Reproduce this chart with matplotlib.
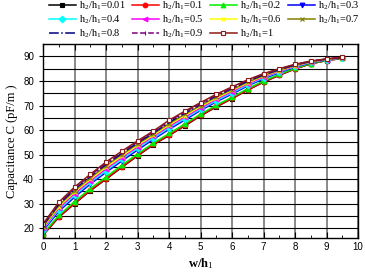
import matplotlib.pyplot as plt
import numpy as np

plt.rcParams['mathtext.fontset'] = 'custom'
plt.rcParams['mathtext.rm'] = 'Liberation Serif'
plt.rcParams['mathtext.it'] = 'Liberation Serif:italic'
plt.rcParams['mathtext.bf'] = 'Liberation Serif:bold'

w_h1 = [0, 0.5, 1, 1.5, 2, 2.5, 3, 3.5, 4, 4.5, 5, 5.5, 6, 6.5, 7, 7.5, 8, 8.5, 9, 9.5]

ratios = ['0.01', '0.1', '0.2', '0.3', '0.4', '0.5', '0.6', '0.7', '0.8', '0.9', '1']

c_001 = [17.2, 24.5, 30.0, 35.3, 40.0, 44.8, 49.5, 54.0, 57.8, 61.7, 65.8, 69.4, 72.8, 76.3, 79.5, 82.3, 84.9, 87.0, 88.3, 89.2]
c_01 = [17.3, 24.7, 30.2, 35.5, 40.2, 45.0, 49.7, 54.2, 58.0, 61.9, 66.0, 69.6, 72.9, 76.4, 79.6, 82.4, 85.0, 87.0, 88.3, 89.2]
c_02 = [17.8, 25.3, 30.9, 36.2, 40.9, 45.7, 50.3, 54.7, 58.6, 62.5, 66.5, 70.1, 73.4, 76.9, 80.0, 82.7, 85.2, 87.1, 88.4, 89.3]
c_03 = [19.0, 26.9, 32.7, 38.0, 42.8, 47.4, 51.9, 56.2, 60.3, 64.1, 68.0, 71.5, 74.7, 78.0, 80.9, 83.4, 85.7, 87.4, 88.6, 89.4]
c_04 = [19.5, 27.6, 33.4, 38.7, 43.5, 48.1, 52.6, 56.8, 60.9, 64.7, 68.5, 72.0, 75.2, 78.4, 81.3, 83.7, 85.9, 87.6, 88.7, 89.4]
c_05 = [20.0, 28.2, 34.1, 39.3, 44.2, 48.8, 53.2, 57.4, 61.5, 65.3, 69.0, 72.5, 75.7, 78.8, 81.6, 83.9, 86.0, 87.7, 88.7, 89.4]
c_06 = [20.4, 28.8, 34.8, 40.0, 44.9, 49.4, 53.8, 57.9, 62.1, 65.9, 69.6, 73.0, 76.2, 79.2, 82.0, 84.2, 86.2, 87.8, 88.8, 89.5]
c_07 = [20.8, 29.3, 35.3, 40.5, 45.5, 50.0, 54.3, 58.4, 62.6, 66.4, 70.0, 73.5, 76.5, 79.6, 82.2, 84.4, 86.4, 87.9, 88.9, 89.5]
c_08 = [21.2, 29.8, 35.9, 41.1, 46.0, 50.5, 54.8, 58.8, 63.1, 66.9, 70.4, 73.9, 76.9, 79.9, 82.5, 84.6, 86.5, 88.0, 88.9, 89.5]
c_09 = [21.5, 30.2, 36.3, 41.5, 46.5, 50.9, 55.2, 59.2, 63.6, 67.3, 70.8, 74.2, 77.3, 80.2, 82.8, 84.8, 86.7, 88.0, 89.0, 89.6]
c_1 = [21.8, 30.6, 36.8, 42.0, 47.0, 51.4, 55.6, 59.6, 64.0, 67.7, 71.2, 74.6, 77.6, 80.5, 83.0, 85.0, 86.8, 88.1, 89.0, 89.6]

series = [c_001, c_01, c_02, c_03, c_04, c_05, c_06, c_07, c_08, c_09, c_1]

# style per curve: color, marker, linestyle, marker facecolor
styles = [
    ('black', 's', '-', 'black'),
    ('red', 'o', '-', 'red'),
    ('#00ee00', '^', '-', '#00ee00'),
    ('blue', 'v', '-', 'blue'),
    ('cyan', 'D', '-', 'cyan'),
    ('magenta', '<', '-', 'magenta'),
    ('yellow', 'x', '-', 'yellow'),
    ('#808000', 'x', '-', '#808000'),
    ('navy', '', '-.', 'navy'),
    ('purple', '|', '--', 'purple'),
    ('#8b1a1a', 's', '-', 'white'),
]

fig = plt.figure(figsize=(3.65, 2.74), dpi=100)
ax = fig.add_axes([0.118, 0.131, 0.863, 0.708])

for vals, r, (c, m, ls, fc) in zip(series, ratios, styles):
    ax.plot(w_h1, vals, color=c, marker=m, linestyle=ls, lw=1.1, ms=3.4,
            mfc=fc, mec=c, mew=0.8, label='h$_2$/h$_1$=' + r)

ax.set_xlim(0, 10)
ax.set_ylim(16, 95)
ax.set_xticks(np.arange(0, 11, 1))
ax.set_xticks(np.arange(0.5, 10, 1), minor=True)
ax.set_yticks(np.arange(20, 91, 10))
ax.set_yticks(np.arange(25, 95, 10), minor=True)

ax.grid(True, axis='x', which='major', color='#808080', lw=1.3)
ax.grid(True, axis='y', which='both', color='black', lw=0.8)

ax.tick_params(axis='x', which='both', direction='in', top=True, labelsize=7,
               pad=3)
ax.tick_params(axis='x', which='major', length=4)
ax.tick_params(axis='x', which='minor', length=2.5)
ax.tick_params(axis='y', which='major', direction='out', length=3, labelsize=7)
ax.tick_params(axis='y', which='minor', length=0)
for t in ax.get_xticklabels() + ax.get_yticklabels():
    t.set_fontfamily('Liberation Sans')
for sp in ax.spines.values():
    sp.set_linewidth(1.0)

ax.set_ylabel('Capacitance C (pF/m )', family='Liberation Serif', fontsize=9,
              labelpad=4)
ax.set_xlabel('w/h$_1$', family='Liberation Serif', fontsize=9,
              fontweight='bold', labelpad=3)

# legend is laid out row by row in the reference (4 per row)
handles, labels = ax.get_legend_handles_labels()
order = [0, 4, 8, 1, 5, 9, 2, 6, 10, 3, 7]
leg = fig.legend([handles[i] for i in order], [labels[i] for i in order],
                 loc='upper center', bbox_to_anchor=(0.56, 1.035), ncol=4,
                 frameon=False, handlelength=2.6,
                 columnspacing=0.6, handletextpad=0.3, labelspacing=0.12,
                 prop={'family': 'Liberation Serif', 'size': 7.5})

fig.savefig('out.png', dpi=100)
